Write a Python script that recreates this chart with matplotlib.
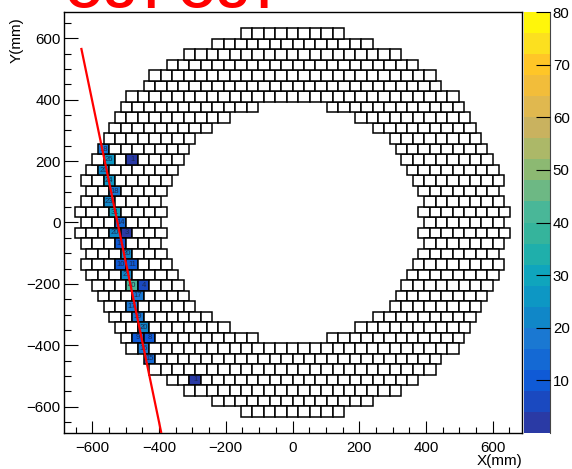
import numpy as np
import matplotlib
matplotlib.use("Agg")
import matplotlib.pyplot as plt
from matplotlib.patches import Rectangle
from matplotlib.colors import ListedColormap, BoundaryNorm
from matplotlib.ticker import MultipleLocator

plt.rcParams['font.family'] = ['Liberation Sans', 'DejaVu Sans']

# half cell in mm, rows are one cell apart
half = 17.15
pitch = 34.2

# outer / inner edge of each row in half cells, row 0 first, mirrored up/down and left/right
outer_edge = [37, 38, 37, 36, 37, 36, 35, 34, 33, 32, 31, 30, 29, 26, 25, 22, 19, 14, 9]
inner_edge = [23, 22, 23, 22, 21, 20, 19, 18, 17, 14, 11, 6, 0, 0, 0, 0, 0, 0, 0]

# fired cells
hit_row = [7, 6, 6, 5, 4, 3, 2, 1, 0, -1, -1, -2, -3, -4, -4, -5, -6, -6, -7, -8, -9, -10, -11, -11, -12, -13, -15]
hit_col = [-33, -32, -28, -33, -32, -31, -32, -31, -30, -31, -29, -30, -29, -30, -28, -29, -28, -26, -27, -28, -27, -26, -27, -25, -26, -25, -17]
hit_val = [18, 26, 1, 20, 24, 18, 23, 31, 14, 20, 3, 11, 20, 10, 11, 21, 40, 4, 17, 17, 19, 20, 9, 8, 16, 15, 1]

line_x = [-633, -393]
line_y = [569, -686]

band_colors = ["#2a3aa5", "#1a49c0", "#0f5ad6", "#1469d4", "#1a78d2", "#1087c8", "#0d97c4", "#0fa5bd",
               "#1fafab", "#35b49c", "#49b798", "#6db884", "#8cb972", "#acb868", "#c9b25f", "#e0b84f",
               "#f2bd3a", "#ffc627", "#fce01f", "#fff60a"]
band_edges = np.arange(0, 84, 4)
cmap = ListedColormap(band_colors)
norm = BoundaryNorm(band_edges, cmap.N)

fig = plt.figure(figsize=(5.72, 4.69), dpi=100)
ax = fig.add_axes([63.5 / 572, 1 - 433 / 469, 458 / 572, 421 / 469])
hits = {(r, c): v for r, c, v in zip(hit_row, hit_col, hit_val)}


def add_cell(r, c):
    v = hits.get((r, c))
    face = "white" if v is None else cmap(norm(v))
    ax.add_patch(Rectangle(((c - 1) * half, r * pitch - pitch / 2), 2 * half, pitch,
                           facecolor=face, edgecolor="black", linewidth=1.1))
    if v is not None:
        ax.text(c * half, r * pitch, str(v), fontsize=5.5, ha="center", va="center", color="#1a2a50")


for i in range(len(outer_edge)):
    for r in {i, -i}:
        out, inn = outer_edge[i], inner_edge[i]
        # cell centres sit one half cell in from the edges
        for c in range(-out + 1, out, 2):
            if inn and abs(c) < inn:
                continue
            add_cell(r, c)

ax.plot(line_x, line_y, color="red", linewidth=1.6, solid_capstyle="butt", zorder=5)

ax.set_xlim(-686, 686)
ax.set_ylim(-686, 686)
ax.xaxis.set_major_locator(MultipleLocator(200))
ax.xaxis.set_minor_locator(MultipleLocator(50))
ax.yaxis.set_major_locator(MultipleLocator(200))
ax.yaxis.set_minor_locator(MultipleLocator(50))
ax.tick_params(axis="x", which="major", direction="in", length=9, width=0.8, labelsize=10.8, pad=6)
ax.tick_params(axis="x", which="minor", direction="in", length=4.5, width=0.8)
ax.tick_params(axis="y", which="major", direction="in", length=10, width=0.8, labelsize=10.8, pad=2)
ax.tick_params(axis="y", which="minor", direction="in", length=5, width=0.8)
for s in ax.spines.values():
    s.set_linewidth(1.0)

fig.text(522 / 572, 1 - 461 / 469, "X(mm)", fontsize=11, ha="right", va="center")
fig.text(17 / 572, 1 - 40 / 469, "Y(mm)", fontsize=11, rotation=90, ha="center", va="center")
fig.text(66 / 572, 1 - 8.5 / 469, "OUT OUT", fontsize=34, fontweight="bold", color="red", ha="left", va="baseline")

# colour scale, drawn by hand so the ticks stay on top of the bands
cax = fig.add_axes([524 / 572, 1 - 433 / 469, 26 / 572, 421 / 469])
cax.pcolormesh([0, 1], band_edges, (band_edges[:-1] + 2)[:, None], cmap=cmap, norm=norm)
cax.set_xticks([])
cax.yaxis.tick_right()
cax.set_yticks(np.arange(10, 90, 10))
cax.set_axisbelow(False)
cax.tick_params(axis="y", direction="in", length=10, width=0.8, labelsize=10.8, pad=2)
for name in ["left", "top", "bottom"]:
    cax.spines[name].set_visible(False)
cax.spines["right"].set_color("#444444")
cax.spines["right"].set_linewidth(0.8)

fig.savefig("out.png", dpi=100)
